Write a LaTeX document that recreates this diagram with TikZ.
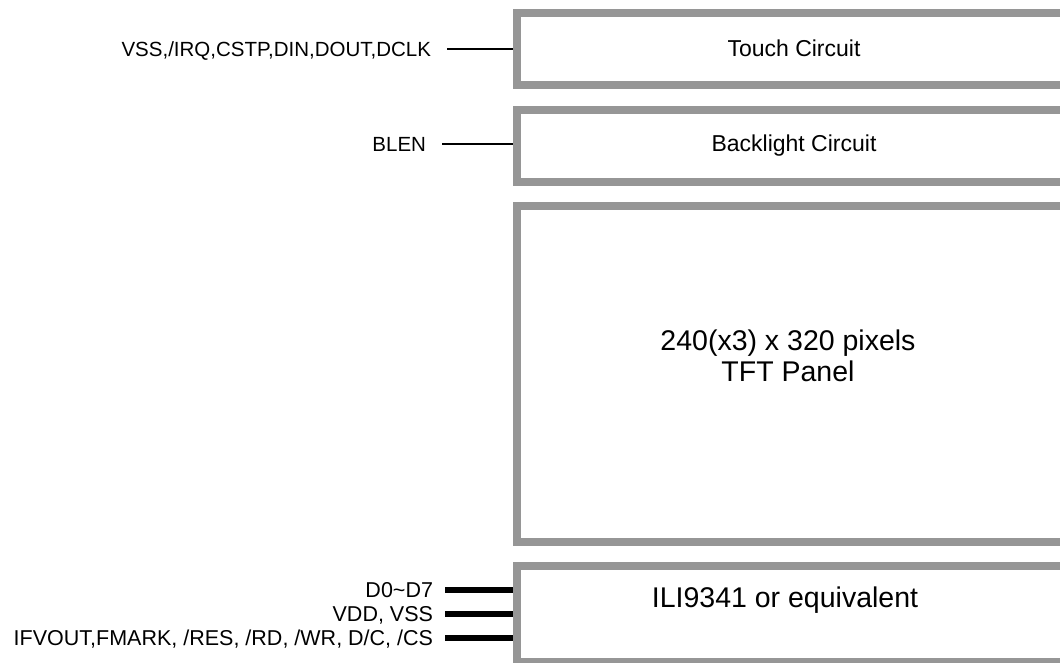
\documentclass[tikz,border=0pt]{standalone}
\usepackage{fontspec}
\setmainfont{Liberation Sans}
\definecolor{panelgray}{RGB}{150,150,150}
\tikzset{
  panel/.style={draw=panelgray, line width=8pt, rectangle, inner sep=0pt,
    minimum width=554pt, font=\fontsize{23}{27}\selectfont},
  sig/.style={anchor=east, inner sep=0pt, outer xsep=16pt, text height=14.7pt,
    text depth=0pt, font=\fontsize{20.5}{24}\selectfont},
  bussig/.style={sig, outer xsep=12pt, text height=15.4pt,
    font=\fontsize{21.5}{25}\selectfont},
  wire/.style={line width=1.5pt},
  bus/.style={line width=6pt},
  bigtext/.style={align=center, font=\fontsize{28.5}{31}\selectfont}
}
\begin{document}
\begin{tikzpicture}[x=1pt, y=-1pt]
    \useasboundingbox (0,0) rectangle (1060,662);

    % Signal labels
    \node[sig] (touchsig) at (447,49) {VSS,/IRQ,CSTP,DIN,DOUT,DCLK};
    \node[sig] (blensig) at (442,144) {BLEN};
    \node[bussig] (datasig) at (445,590) {D0\textasciitilde D7};
    \node[bussig] (powersig) at (445,614) {VDD, VSS};
    \node[bussig] (ctrlsig) at (445,638) {IFVOUT,FMARK, /RES, /RD, /WR, D/C, /CS};

    % Module blocks (open to the right)
    \node[panel, minimum height=71.5pt] (touch) at (794,48.75) {Touch Circuit};
    \node[panel, minimum height=72pt] (backlight) at (794,146) {Backlight Circuit};
    \node[panel, minimum height=336pt] (tft) at (794,374) {};
    \node[panel, minimum height=96pt] (ili) at (794,614) {};

    \node[bigtext] (tftlabel) at (788,356) {240(x3) x 320 pixels\\TFT Panel};
    \node[bigtext] (ililabel) at (785,600) {ILI9341 or equivalent};

    % Connections
    \draw[wire] (touchsig.east) -- (touchsig.east -| touch.west);
    \draw[wire] (blensig.east) -- (blensig.east -| backlight.west);
    \draw[bus] (datasig.east) -- (datasig.east -| ili.west);
    \draw[bus] (powersig.east) -- (powersig.east -| ili.west);
    \draw[bus] (ctrlsig.east) -- (ctrlsig.east -| ili.west);
\end{tikzpicture}
\end{document}
